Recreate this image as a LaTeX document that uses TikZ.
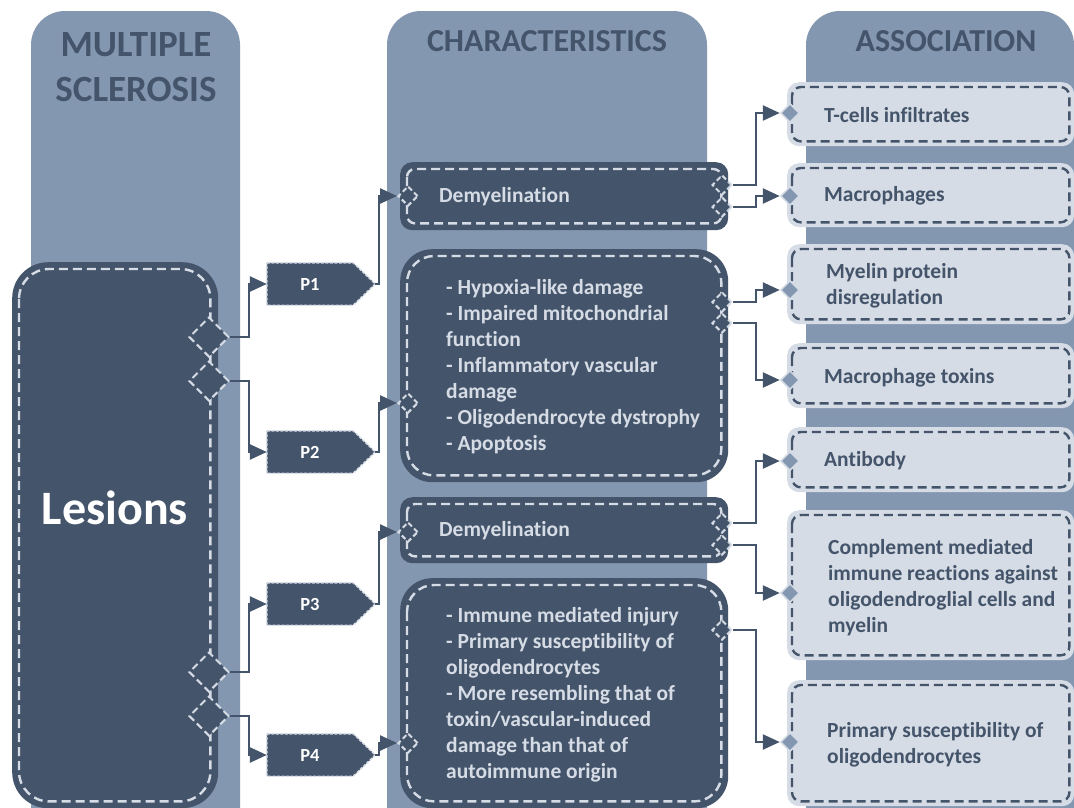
\documentclass[tikz,border=0pt]{standalone}
\usepackage{fontspec}
\setmainfont{Carlito}[Ligatures=CommonOff]
\usetikzlibrary{arrows.meta,shapes.geometric}
\definecolor{steel}{HTML}{8497B0}
\definecolor{slate}{HTML}{44546A}
\definecolor{mist}{HTML}{D6DCE5}
\pgfdeclarelayer{back}
\pgfsetlayers{back,main}

\begin{document}
\begin{tikzpicture}[x=1pt,y=-1pt,
  lane/.style={fill=steel, rounded corners=34pt},
  header/.style={text=slate, font=\bfseries\fontsize{32}{45}\selectfont, align=center},
  card/.style={fill=slate, draw=none, inner sep=0pt, anchor=north west},
  cardline/.style={draw=mist, line width=2.4pt, dash pattern=on 9pt off 5pt},
  cardtext/.style={text=mist, font=\bfseries\fontsize{21.5}{26}\selectfont, align=left, anchor=west, inner sep=0pt},
  assoc/.style={fill=mist, draw=none, inner sep=0pt, anchor=north west, rounded corners=12pt, minimum width=287pt},
  assocline/.style={draw=slate, line width=2.4pt, dash pattern=on 9pt off 5pt, rounded corners=9pt},
  assoctext/.style={text=slate, font=\bfseries\fontsize{21.5}{26}\selectfont, align=left, anchor=west, inner sep=0pt},
  pmark/.style={text=white, font=\bfseries\fontsize{18.5}{20}\selectfont, minimum width=86pt, minimum height=42pt, inner sep=0pt},
  pshape/.style={fill=slate, draw=mist, line width=1.4pt, dash pattern=on 3pt off 1.5pt},
  gate/.style={diamond, aspect=1, fill=slate, draw=mist, line width=2pt, dash pattern=on 5pt off 3pt, inner sep=0pt, minimum width=20pt, minimum height=20pt},
  biggate/.style={gate, minimum width=40pt, minimum height=40pt, dash pattern=on 7pt off 4pt},
  port/.style={diamond, aspect=1, fill=steel, draw=mist, line width=1.5pt, inner sep=0pt, minimum width=19pt, minimum height=19pt},
  link/.style={draw=slate, line width=2.5pt, -{Triangle[length=17pt,width=15pt]}}
]
\clip (0,0) rectangle (1074,807);
\begin{pgfonlayer}{back}
  \fill[white] (0,0) rectangle (1074,807);
\end{pgfonlayer}

% three lanes
\fill[lane] (31,11) rectangle (240,880);
\fill[lane] (387,11) rectangle (707,880);
\fill[lane] (806,11) rectangle (1074,880);

\node[header, font=\bfseries\fontsize{37}{45}\selectfont] (hms) at (136,67.5) {MULTIPLE\\SCLEROSIS};
\node[header] (hch) at (547,41) {CHARACTERISTICS};
\node[header] (has) at (946,41) {ASSOCIATION};

% lesion block
\node[card, rounded corners=36pt, minimum width=206pt, minimum height=546pt] (les) at (12,262) {};
\draw[cardline, rounded corners=30pt] ([shift={(7,7)}]les.north west) rectangle ([shift={(-8,-7)}]les.south east);
\node[text=white, font=\bfseries\fontsize{48}{52}\selectfont] (lestext) at (115,508) {Lesions};

% characteristic cards
\node[card, rounded corners=12pt, minimum width=328pt, minimum height=68pt] (c1) at (400,162) {};
\node[card, rounded corners=32pt, minimum width=328pt, minimum height=233pt] (c2) at (400,249) {};
\node[card, rounded corners=12pt, minimum width=328pt, minimum height=66pt] (c3) at (400,497) {};
\node[card, rounded corners=32pt, minimum width=328pt, minimum height=230pt] (c4) at (400,578) {};
\foreach \n/\r in {c1/8pt, c2/27pt, c3/8pt, c4/27pt}
  \draw[cardline, rounded corners=\r] ([shift={(7,7)}]\n.north west) rectangle ([shift={(-7,-7)}]\n.south east);

\node[cardtext] (t1) at ([xshift=39pt]c1.west) {Demyelination};
\node[cardtext] (t2) at ([xshift=46pt,yshift=-1pt]c2.west) {- Hypoxia-like damage\\- Impaired mitochondrial\\function\\- Inflammatory vascular\\damage\\- Oligodendrocyte dystrophy\\- Apoptosis};
\node[cardtext] (t3) at ([xshift=39pt]c3.west) {Demyelination};
\node[cardtext] (t4) at ([xshift=46pt,yshift=-2pt]c4.west) {- Immune mediated injury\\- Primary susceptibility of\\oligodendrocytes\\- More resembling that of\\toxin/vascular-induced\\damage than that of\\autoimmune origin};

% association cards
\node[assoc, minimum height=64pt] (a1) at (787,82) {};
\node[assoc, minimum height=64pt] (a2) at (787,163) {};
\node[assoc, minimum height=80pt] (a3) at (787,244) {};
\node[assoc, minimum height=65pt] (a4) at (787,343) {};
\node[assoc, minimum height=65pt] (a5) at (787,427) {};
\node[assoc, minimum height=150pt] (a6) at (787,510) {};
\node[assoc, minimum height=126pt] (a7) at (787,680) {};
\foreach \n in {a1,a2,a3,a4,a5,a6,a7}
  \draw[assocline] ([shift={(5,5)}]\n.north west) rectangle ([shift={(-5,-5)}]\n.south east);

\node[assoctext] (s1) at ([xshift=37pt,yshift=-1pt]a1.west) {T-cells infiltrates};
\node[assoctext] (s2) at ([xshift=37pt,yshift=-1pt]a2.west) {Macrophages};
\node[assoctext] (s3) at ([xshift=39pt,yshift=-2pt]a3.west) {Myelin protein\\disregulation};
\node[assoctext] (s4) at ([xshift=37pt,yshift=-2pt]a4.west) {Macrophage toxins};
\node[assoctext] (s5) at ([xshift=37pt,yshift=-1pt]a5.west) {Antibody};
\node[assoctext] (s6) at ([xshift=41pt,yshift=-2pt]a6.west) {Complement mediated\\immune reactions against\\oligodendroglial cells and\\myelin};
\node[assoctext] (s7) at ([xshift=40pt,yshift=-2pt]a7.west) {Primary susceptibility of\\oligodendrocytes};

% pattern tags P1--P4
\foreach \n/\y/\lab in {p1/284/P1, p2/452/P2, p3/604/P3, p4/755/P4} {
  \node[pmark] (\n) at (310,\y) {\lab};
  \coordinate (\n tip) at ([xshift=22pt]\n.east);
  \begin{pgfonlayer}{back}
    \draw[pshape] (\n.north west) -- (\n.north east) -- (\n tip) -- (\n.south east) -- (\n.south west) -- cycle;
  \end{pgfonlayer}
}

% gates on the lesion block
\node[biggate] (g1) at (209,337) {};
\node[biggate] (g2) at (209,381) {};
\node[biggate] (g3) at (209,672) {};
\node[biggate] (g4) at (209,716) {};

% gates on the characteristic cards
\node[gate] (i1) at (408,196) {};
\node[gate] (i2) at (408,403) {};
\node[gate] (i3) at (408,532) {};
\node[gate] (i4) at (408,743) {};
\node[gate] (o1a) at (722,185) {};
\node[gate] (o1b) at (722,207) {};
\node[gate] (o2a) at (722,302) {};
\node[gate] (o2b) at (722,323) {};
\node[gate] (o3a) at (722,523) {};
\node[gate] (o3b) at (722,545) {};
\node[gate] (o4) at (722,630) {};

% ports on the association cards
\node[port] (d1) at (790,113) {};
\node[port] (d2) at (790,196) {};
\node[port] (d3) at (790,290) {};
\node[port] (d4) at (790,380) {};
\node[port] (d5) at (790,461) {};
\node[port] (d6) at (790,593) {};
\node[port] (d7) at (790,742) {};

% lesion -> patterns
\draw[link] (g1.east) -- ++(19,0) |- (p1.west);
\draw[link] (g2.east) -- ++(19,0) |- (p2.west);
\draw[link] (g3.east) -- ++(19,0) |- (p3.west);
\draw[link] (g4.east) -- ++(19,0) |- (p4.west);

% patterns -> characteristics
\draw[link] (p1tip) -- ++(4,0) |- (i1.west);
\draw[link] (p2tip) -- ++(4,0) |- (i2.west);
\draw[link] (p3tip) -- ++(4,0) |- (i3.west);
\draw[link] (p4tip) -- ++(4,0) |- (i4.west);

% characteristics -> associations
\draw[link] (o1a.east) -- ++(23,0) |- (d1.west);
\draw[link] (o1b.east) -- ++(23,0) |- (d2.west);
\draw[link] (o2a.east) -- ++(23,0) |- (d3.west);
\draw[link] (o2b.east) -- ++(23,0) |- (d4.west);
\draw[link] (o3a.east) -- ++(23,0) |- (d5.west);
\draw[link] (o3b.east) -- ++(23,0) |- (d6.west);
\draw[link] (o4.east) -- ++(23,0) |- (d7.west);
\end{tikzpicture}
\end{document}
